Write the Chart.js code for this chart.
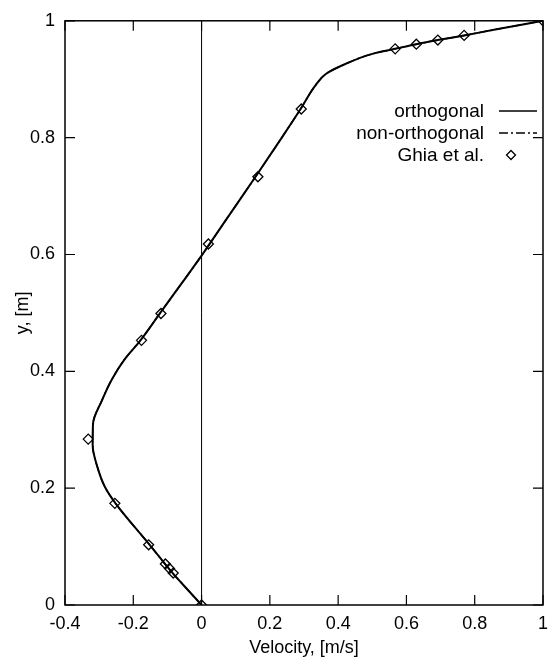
<!DOCTYPE html>
<html>
<head>
<meta charset="utf-8">
<script src="https://cdn.jsdelivr.net/npm/chart.js@4/dist/chart.umd.min.js"></script>
<style>
  html, body { margin: 0; padding: 0; background: #fff; }
  #wrap { width: 556px; height: 669px; }
</style>
</head>
<body>
<div id="wrap"><canvas id="velChart"></canvas></div>
<script>
// solid curve (velocity u, height y)
const orthoU = [0, -0.042, -0.084, -0.152, -0.252, -0.283, -0.305, -0.319, -0.318, -0.292, -0.262, -0.226, -0.179, -0.121, -0.059, 0, 0.07, 0.158, 0.235, 0.29, 0.333, 0.364, 0.421, 0.498, 0.567, 0.629, 0.692, 0.769, 0.86, 1.0];
const orthoY = [0, 0.027, 0.054, 0.103, 0.174, 0.202, 0.236, 0.274, 0.31, 0.35, 0.387, 0.42, 0.453, 0.5, 0.55, 0.598, 0.658, 0.733, 0.8, 0.849, 0.889, 0.909, 0.926, 0.943, 0.952, 0.96, 0.967, 0.975, 0.985, 1.0];

// dash-dot curve lies on top of the solid one
const nonOrthoU = orthoU.slice();
const nonOrthoY = orthoY.slice();

// Ghia et al. reference points
const ghiaU = [1.0, 0.769, 0.692, 0.629, 0.567, 0.292, 0.165, 0.02, -0.119, -0.176, -0.332, -0.254, -0.155, -0.106, -0.094, -0.083, 0];
const ghiaY = [1.0, 0.975, 0.967, 0.96, 0.952, 0.849, 0.733, 0.618, 0.499, 0.453, 0.284, 0.174, 0.103, 0.0703, 0.0625, 0.0547, 0];

const legendLabels = ["orthogonal", "non-orthogonal", "Ghia et al."];

const FONT = "'Liberation Sans', Arial, sans-serif";

const toPts = (xs, ys) => xs.map((x, i) => ({ x, y: ys[i] }));
const fmt = (v) => String(Number(v.toFixed(1)));

// frame, inward ticks on all four sides, zero line and legend
const framePlugin = {
  id: "frame",
  afterDatasetsDraw(chart) {
    const { ctx, chartArea: a, scales } = chart;
    ctx.save();
    ctx.strokeStyle = "#000";

    // vertical line at u = 0
    const x0 = scales.x.getPixelForValue(0);
    ctx.lineWidth = 1;
    ctx.beginPath();
    ctx.moveTo(x0, a.top);
    ctx.lineTo(x0, a.bottom);
    ctx.stroke();

    ctx.lineWidth = 1.5;
    ctx.strokeRect(a.left, a.top, a.right - a.left, a.bottom - a.top);

    const len = 10;
    ctx.lineWidth = 1.2;
    ctx.beginPath();
    scales.x.ticks.forEach((t) => {
      const px = scales.x.getPixelForValue(t.value);
      ctx.moveTo(px, a.bottom); ctx.lineTo(px, a.bottom - len);
      ctx.moveTo(px, a.top); ctx.lineTo(px, a.top + len);
    });
    scales.y.ticks.forEach((t) => {
      const py = scales.y.getPixelForValue(t.value);
      ctx.moveTo(a.left, py); ctx.lineTo(a.left + len, py);
      ctx.moveTo(a.right, py); ctx.lineTo(a.right - len, py);
    });
    ctx.stroke();

    // legend, text right aligned, sample to the right
    ctx.font = "19px " + FONT;
    ctx.fillStyle = "#000";
    ctx.textAlign = "right";
    ctx.textBaseline = "middle";
    const tx = 484, sx0 = 499, sx1 = 537;
    const rows = [111, 133, 155];
    legendLabels.forEach((lab, i) => ctx.fillText(lab, tx, rows[i] + 1));

    ctx.lineWidth = 1.6;
    ctx.beginPath();
    ctx.moveTo(sx0, rows[0]); ctx.lineTo(sx1, rows[0]);
    ctx.stroke();

    ctx.setLineDash([9, 3, 2, 3]);
    ctx.beginPath();
    ctx.moveTo(sx0, rows[1]); ctx.lineTo(sx1, rows[1]);
    ctx.stroke();
    ctx.setLineDash([]);

    const dx = 511, dy = rows[2], r = 4.5;
    ctx.lineWidth = 1.3;
    ctx.beginPath();
    ctx.moveTo(dx, dy - r); ctx.lineTo(dx + r, dy); ctx.lineTo(dx, dy + r); ctx.lineTo(dx - r, dy);
    ctx.closePath();
    ctx.stroke();
    ctx.restore();
  },
};

new Chart(document.getElementById("velChart"), {
  type: "scatter",
  data: {
    datasets: [
      {
        label: legendLabels[0],
        data: toPts(orthoU, orthoY),
        indexAxis: "y",
        showLine: true,
        borderColor: "#000",
        borderWidth: 2,
        pointRadius: 0,
        cubicInterpolationMode: "monotone",
      },
      {
        label: legendLabels[1],
        data: toPts(nonOrthoU, nonOrthoY),
        indexAxis: "y",
        showLine: true,
        borderColor: "#000",
        borderWidth: 1.5,
        borderDash: [9, 3, 2, 3],
        pointRadius: 0,
        cubicInterpolationMode: "monotone",
      },
      {
        label: legendLabels[2],
        data: toPts(ghiaU, ghiaY),
        showLine: false,
        pointStyle: "rectRot",
        pointRadius: 5,
        pointBorderWidth: 1.3,
        pointBorderColor: "#000",
        pointBackgroundColor: "rgba(255,255,255,0)",
      },
    ],
  },
  options: {
    responsive: true,
    maintainAspectRatio: false,
    animation: false,
    events: [],
    layout: { padding: { top: 20, right: 4, left: 0, bottom: 0 } },
    plugins: { legend: { display: false }, tooltip: { enabled: false } },
    scales: {
      x: {
        type: "linear",
        min: -0.4,
        max: 1,
        grid: { display: false, drawTicks: false },
        border: { display: false },
        ticks: { stepSize: 0.2, padding: 8, color: "#000", font: { family: FONT, size: 18 }, callback: fmt },
        title: { display: true, text: "Velocity, [m/s]", color: "#000", font: { family: FONT, size: 18 }, padding: { top: 0, bottom: 10 } },
        afterFit: (s) => { s.height = 64; },
      },
      y: {
        type: "linear",
        min: 0,
        max: 1,
        grid: { display: false, drawTicks: false },
        border: { display: false },
        ticks: { stepSize: 0.2, padding: 10, color: "#000", font: { family: FONT, size: 18 }, callback: fmt },
        title: { display: true, text: "y, [m]", color: "#000", font: { family: FONT, size: 18 }, padding: { top: 12, bottom: 0 } },
        afterFit: (s) => { s.width = 65; },
      },
    },
  },
  plugins: [framePlugin],
});
</script>
</body>
</html>
